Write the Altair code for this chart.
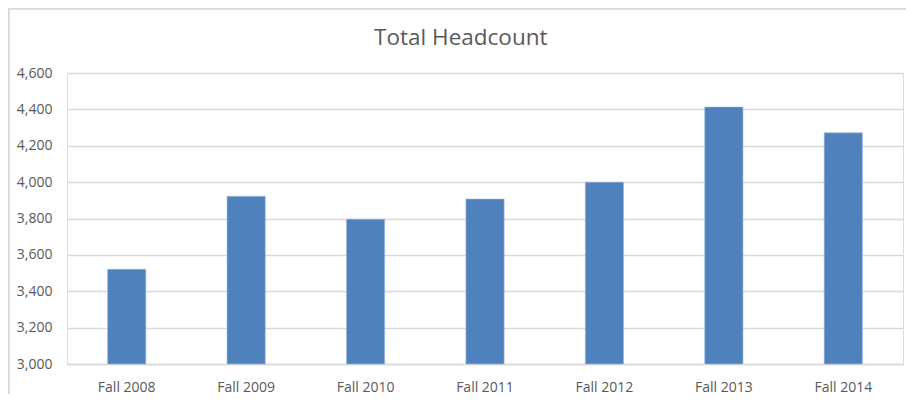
import altair as alt
import pandas as pd

categories = ["Fall 2008", "Fall 2009", "Fall 2010", "Fall 2011", "Fall 2012", "Fall 2013", "Fall 2014"]
headcount = [3521, 3922, 3796, 3907, 4000, 4413, 4271]
y_ticks = [3000, 3200, 3400, 3600, 3800, 4000, 4200, 4400, 4600]

df = pd.DataFrame({"term": categories, "headcount": headcount})

W, H = 836, 291
FONT = "Open Sans"

bars = alt.Chart(df).mark_bar(color="#4F81BD", stroke="#9DB9DD", strokeWidth=0.6).encode(
    x=alt.X("term:N", sort=categories,
            scale=alt.Scale(paddingInner=0.68, paddingOuter=0.34),
            axis=alt.Axis(title=None, labelAngle=0, ticks=False, domain=True,
                          domainColor="#D9D9D9", domainWidth=1.3,
                          labelFont=FONT, labelFontSize=14, labelColor="#595959",
                          labelPadding=16, labelBaseline="top")),
    y=alt.Y("headcount:Q",
            scale=alt.Scale(domain=[3000, 4600], nice=False, zero=False),
            axis=alt.Axis(title=None, values=y_ticks, format=",.0f", formatType="number",
                          ticks=False, domain=False,
                          grid=True, gridColor="#D9D9D9", gridWidth=1.3,
                          labelFont=FONT, labelFontSize=14, labelColor="#595959",
                          labelPadding=15)),
    y2=alt.datum(3000),
)

border = alt.Chart(df).mark_rule(color="#D9D9D9", strokeWidth=1.2).encode(
    x=alt.value(-58.4), y=alt.value(-64.4), y2=alt.value(H + 40)
)
border_top = alt.Chart(df).mark_rule(color="#D9D9D9", strokeWidth=1.2).encode(
    x=alt.value(-58.4), x2=alt.value(W + 10), y=alt.value(-64.4)
)

chart = alt.layer(bars, border, border_top).properties(
    width=W, height=H,
    title=alt.TitleParams("Total Headcount", font=FONT, fontSize=22.5, fontWeight="normal",
                          color="#595959", offset=-41, frame="bounds", anchor="middle"),
    autosize=alt.AutoSizeParams(type="none"),
    padding={"left": 59, "top": 65, "right": 3, "bottom": 30},
).configure_view(stroke=None).configure(background="white")

chart.save("out.html", embed_options={"renderer": "svg", "actions": False})
